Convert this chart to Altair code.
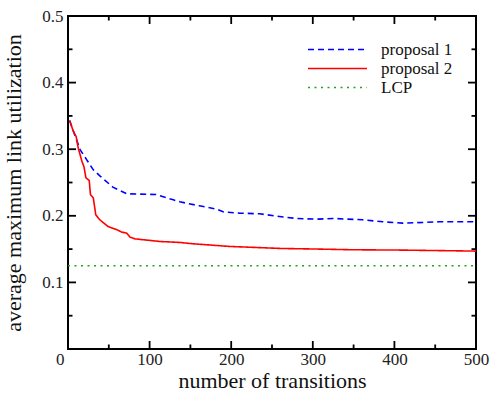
import altair as alt
import pandas as pd

# ---- data ----
series_names = ["proposal 1", "proposal 2", "LCP"]

p1_x = [2, 9, 15, 23, 31, 39, 55, 72, 108, 129, 137, 161, 182, 190, 210, 235,
        259, 280, 304, 325, 361, 386, 410, 435, 455, 500]
p1_y = [0.343, 0.319, 0.299, 0.284, 0.269, 0.260, 0.243, 0.233, 0.232, 0.224,
        0.221, 0.215, 0.210, 0.206, 0.204, 0.203, 0.199, 0.196, 0.195, 0.196,
        0.194, 0.191, 0.189, 0.190, 0.191, 0.191]

p2_x = [2, 6.5, 10, 12.5, 17, 19.5, 22, 26, 27.5, 31, 34, 39, 49, 60, 66, 72,
        76, 82, 113, 137, 153, 198, 260, 308, 349, 410, 500]
p2_y = [0.343, 0.327, 0.319, 0.302, 0.282, 0.274, 0.257, 0.253, 0.232, 0.227,
        0.2015, 0.194, 0.184, 0.179, 0.1755, 0.174, 0.168, 0.1654, 0.1614,
        0.160, 0.158, 0.154, 0.151, 0.150, 0.149, 0.1485, 0.147]

lcp_x = [0, 500]
lcp_y = [0.125, 0.125]

x_labels = [0, 100, 200, 300, 400, 500]
y_labels = [0.1, 0.2, 0.3, 0.4, 0.5]
x_major = [100, 200, 300, 400]
x_minor = [50, 150, 250, 350, 450]
y_major = [0.1, 0.2, 0.3, 0.4]
y_minor = [0.05, 0.15, 0.25, 0.35, 0.45]

# ---- build tables ----
rows = []
for name, xs, ys in [("proposal 1", p1_x, p1_y), ("proposal 2", p2_x, p2_y), ("LCP", lcp_x, lcp_y)]:
    for i, (a, b) in enumerate(zip(xs, ys)):
        rows.append({"series": name, "x": a, "y": b, "order": i})
df = pd.DataFrame(rows)

W, H = 408, 333
FONT = "'Liberation Serif', 'Times New Roman', Times, serif"

xscale = alt.Scale(domain=[0, 500], nice=False, zero=False)
yscale = alt.Scale(domain=[0, 0.5], nice=False, zero=False)

x_axis = alt.Axis(values=x_labels, title="number of transitions", titlePadding=3,
                  labelAlign={"condition": {"test": "datum.value === 0", "value": "right"}, "value": "center"},
                  labelOffset={"condition": {"test": "datum.value === 0", "value": -4}, "value": 0},
                  labelPadding=2)
y_axis = alt.Axis(values=y_labels, title="average maximum link utilization", format=".1f",
                  titlePadding=16, labelPadding=5)

legend = alt.Legend(title=None, orient="none", legendX=239, legendY=24,
                    symbolType="stroke", symbolSize=3481, symbolStrokeWidth=1.6,
                    labelOffset=13, clipHeight=19, rowPadding=0, padding=0)

lines = alt.Chart(df).mark_line(strokeWidth=1.6).encode(
    x=alt.X("x:Q", scale=xscale, axis=x_axis),
    y=alt.Y("y:Q", scale=yscale, axis=y_axis),
    color=alt.Color("series:N",
                    scale=alt.Scale(domain=series_names, range=["#0000ff", "#ff0000", "#22a022"]),
                    legend=legend),
    strokeDash=alt.StrokeDash("series:N",
                              scale=alt.Scale(domain=series_names, range=[[6, 4], [1, 0], [2, 4.5]]),
                              legend=legend),
    order="order:Q",
)

def xticks(vals, y0, y1):
    return alt.Chart(pd.DataFrame({"v": vals})).mark_rule(color="black", strokeWidth=1.8).encode(
        x=alt.X("v:Q", scale=xscale, axis=x_axis), y=alt.value(y0), y2=alt.value(y1))

def yticks(vals, x0, x1):
    return alt.Chart(pd.DataFrame({"v": vals})).mark_rule(color="black", strokeWidth=1.8).encode(
        y=alt.Y("v:Q", scale=yscale, axis=y_axis), x=alt.value(x0), x2=alt.value(x1))

MAJ, MIN = 8, 4.5
ticks = [
    xticks(x_major, H, H - MAJ), xticks(x_minor, H, H - MIN),
    xticks(x_major, 0, MAJ), xticks(x_minor, 0, MIN),
    yticks(y_major, 0, MAJ), yticks(y_minor, 0, MIN),
    yticks(y_major, W, W - MAJ), yticks(y_minor, W, W - MIN),
]

chart = alt.layer(lines, *ticks).properties(
    width=W, height=H,
    autosize=alt.AutoSizeParams(type="none"),
    padding={"left": 68, "top": 16, "right": 14, "bottom": 45},
    background="white",
).configure(font=FONT).configure_view(
    stroke="black", strokeWidth=2
).configure_axis(
    grid=False, domain=False, ticks=False,
    labelFont=FONT, labelFontSize=17, labelColor="#222",
    titleFont=FONT, titleFontSize=22, titleFontWeight="normal", titleColor="#111",
).configure_legend(
    labelFont=FONT, labelFontSize=17, labelColor="#111",
)

chart.save("out.html", embed_options={"renderer": "svg", "actions": False})
